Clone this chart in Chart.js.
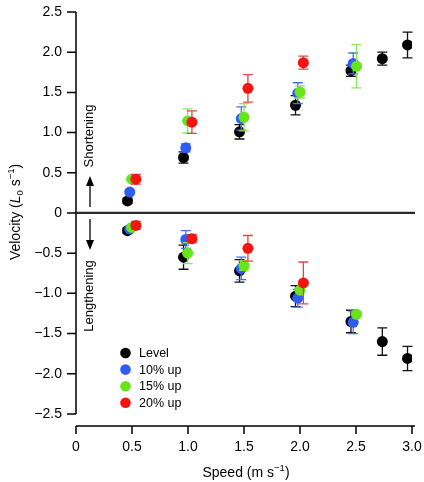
<!DOCTYPE html>
<html>

<head>
  <title>Velocity vs Speed</title>
  <script src="https://cdn.jsdelivr.net/npm/chart.js@4"></script>
  <style>
    body { margin: 0; background: #fff; }
  </style>
</head>

<body>
  <canvas id="speed-chart" width="424" height="482"></canvas>

  <script>
    // axis ticks
    const xTicks = [0, 0.5, 1.0, 1.5, 2.0, 2.5, 3.0];
    const yTicks = [-2.5, -2.0, -1.5, -1.0, -0.5, 0, 0.5, 1.0, 1.5, 2.0, 2.5];

    const seriesNames = ['Level', '10% up', '15% up', '20% up'];
    const seriesColors = ['#000000', '#2f5cf5', '#66e61a', '#f5140f'];
    const errorColors = ['#111111', '#4a70e6', '#90e25e', '#e04848'];

    // Level
    const levelSpeed = [0.46, 0.96, 1.46, 1.96, 2.455, 2.735, 2.96];
    const levelShort = [0.15, 0.69, 1.01, 1.34, 1.77, 1.92, 2.09];
    const levelShortErr = [0.03, 0.07, 0.09, 0.12, 0.07, 0.08, 0.16];
    const levelLong = [-0.22, -0.55, -0.72, -1.035, -1.35, -1.60, -1.81];
    const levelLongErr = [0.03, 0.15, 0.14, 0.13, 0.14, 0.17, 0.15];

    // 10% up
    const up10Speed = [0.48, 0.98, 1.476, 1.98, 2.475];
    const up10Short = [0.26, 0.81, 1.175, 1.49, 1.86];
    const up10ShortErr = [0.02, 0.05, 0.145, 0.13, 0.13];
    const up10Long = [-0.20, -0.33, -0.69, -1.06, -1.36];
    const up10LongErr = [0.02, 0.11, 0.14, 0.11, 0.14];

    // 15% up
    const up15Speed = [0.497, 0.997, 1.50, 2.0, 2.505];
    const up15Short = [0.42, 1.145, 1.19, 1.505, 1.825];
    const up15ShortErr = [0.02, 0.15, 0.17, 0.075, 0.27];
    const up15Long = [-0.18, -0.50, -0.655, -0.96, -1.26];
    const up15LongErr = [0.02, 0.13, 0.06, 0.03, 0.03];

    // 20% up
    const up20Speed = [0.535, 1.035, 1.535, 2.03];
    const up20Short = [0.42, 1.13, 1.55, 1.87];
    const up20ShortErr = [0.06, 0.14, 0.17, 0.08];
    const up20Long = [-0.155, -0.32, -0.44, -0.87];
    const up20LongErr = [0.05, 0.05, 0.16, 0.26];

    const FONT = '"Liberation Sans", Arial, sans-serif';

    function makePoints(speed, shortV, shortE, longV, longE) {
      const pts = [];
      speed.forEach((s, i) => pts.push({ x: s, y: shortV[i], e: shortE[i] }));
      speed.forEach((s, i) => pts.push({ x: s, y: longV[i], e: longE[i] }));
      return pts;
    }

    const allPoints = [
      makePoints(levelSpeed, levelShort, levelShortErr, levelLong, levelLongErr),
      makePoints(up10Speed, up10Short, up10ShortErr, up10Long, up10LongErr),
      makePoints(up15Speed, up15Short, up15ShortErr, up15Long, up15LongErr),
      makePoints(up20Speed, up20Short, up20ShortErr, up20Long, up20LongErr)
    ];

    function fmt(v) {
      if (v === 0) return '0';
      return v.toFixed(1).replace('-', '\u2212');
    }

    // no automatic label padding: layout.padding decides the plot box
    function noPad(s) {
      s.paddingTop = 0;
      s.paddingBottom = 0;
      s.paddingLeft = 0;
      s.paddingRight = 0;
    }

    // draws a run of text pieces (normal / italic / sub / sup) centred at 0,0
    function drawRich(ctx, parts) {
      let total = 0;
      parts.forEach(p => {
        ctx.font = p.font;
        p.w = ctx.measureText(p.t).width;
        total += p.w;
      });
      let x = -total / 2;
      parts.forEach(p => {
        ctx.font = p.font;
        ctx.fillText(p.t, x, p.dy || 0);
        x += p.w;
      });
    }

    const errorBars = {
      id: 'errorBars',
      beforeDatasetDraw(chart, args) {
        const ctx = chart.ctx;
        const y = chart.scales.y;
        const ds = chart.data.datasets[args.index];
        const meta = chart.getDatasetMeta(args.index);
        ctx.save();
        ctx.strokeStyle = errorColors[args.index];
        ctx.lineWidth = 1.3;
        meta.data.forEach((el, i) => {
          const d = ds.data[i];
          const top = y.getPixelForValue(d.y + d.e);
          const bot = y.getPixelForValue(d.y - d.e);
          ctx.beginPath();
          ctx.moveTo(el.x, top); ctx.lineTo(el.x, bot);
          ctx.moveTo(el.x - 5, top); ctx.lineTo(el.x + 5, top);
          ctx.moveTo(el.x - 5, bot); ctx.lineTo(el.x + 5, bot);
          ctx.stroke();
        });
        ctx.restore();
      }
    };

    const decorations = {
      id: 'decorations',
      beforeDatasetsDraw(chart) {
        const ctx = chart.ctx;
        const xs = chart.scales.x;
        const ys = chart.scales.y;
        const area = chart.chartArea;
        const x0 = xs.getPixelForValue(0);
        const xEnd = xs.getPixelForValue(3) + 3;
        const yZero = ys.getPixelForValue(0);

        ctx.save();
        ctx.strokeStyle = '#000';
        ctx.fillStyle = '#000';
        ctx.lineWidth = 1.5;

        // y axis + ticks
        ctx.beginPath();
        ctx.moveTo(x0, ys.getPixelForValue(2.5));
        ctx.lineTo(x0, ys.getPixelForValue(-2.5));
        yTicks.forEach(v => {
          const p = ys.getPixelForValue(v);
          ctx.moveTo(x0 - 9, p); ctx.lineTo(x0, p);
        });
        ctx.stroke();

        // x axis + ticks
        ctx.beginPath();
        ctx.moveTo(x0, area.bottom);
        ctx.lineTo(xEnd, area.bottom);
        xTicks.forEach(v => {
          const p = xs.getPixelForValue(v);
          ctx.moveTo(p, area.bottom); ctx.lineTo(p, area.bottom + 8);
        });
        ctx.stroke();

        // zero line
        ctx.strokeStyle = '#2a2a2a';
        ctx.lineWidth = 2.2;
        ctx.beginPath();
        ctx.moveTo(x0, yZero);
        ctx.lineTo(xEnd, yZero);
        ctx.stroke();

        // shortening / lengthening labels with arrows
        const ax = 90;
        ctx.strokeStyle = '#000';
        ctx.lineWidth = 1.3;
        ctx.beginPath();
        ctx.moveTo(ax, yZero - 6); ctx.lineTo(ax, yZero - 28);
        ctx.moveTo(ax, yZero + 6); ctx.lineTo(ax, yZero + 28);
        ctx.stroke();
        ctx.beginPath();
        ctx.moveTo(ax, yZero - 37); ctx.lineTo(ax - 4, yZero - 27); ctx.lineTo(ax + 4, yZero - 27);
        ctx.closePath(); ctx.fill();
        ctx.beginPath();
        ctx.moveTo(ax, yZero + 37); ctx.lineTo(ax - 4, yZero + 27); ctx.lineTo(ax + 4, yZero + 27);
        ctx.closePath(); ctx.fill();

        ctx.font = '13px ' + FONT;
        ctx.textAlign = 'center';
        ctx.textBaseline = 'middle';
        ctx.save();
        ctx.translate(ax - 1, yZero - 77);
        ctx.rotate(-Math.PI / 2);
        ctx.fillText('Shortening', 0, 0);
        ctx.restore();
        ctx.save();
        ctx.translate(ax - 1, yZero + 83);
        ctx.rotate(-Math.PI / 2);
        ctx.fillText('Lengthening', 0, 0);
        ctx.restore();

        // axis titles
        ctx.textAlign = 'left';
        ctx.textBaseline = 'alphabetic';
        const f = '14px ' + FONT;
        const fs = '9.5px ' + FONT;
        ctx.save();
        ctx.translate(20, yZero - 1);
        ctx.rotate(-Math.PI / 2);
        drawRich(ctx, [
          { t: 'Velocity (', font: f },
          { t: 'L', font: 'italic ' + f },
          { t: '0', font: fs, dy: 3 },
          { t: ' s', font: f },
          { t: '\u22121', font: fs, dy: -6 },
          { t: ')', font: f }
        ]);
        ctx.restore();

        ctx.save();
        ctx.translate((x0 + xs.getPixelForValue(3)) / 2 + 2, 477);
        drawRich(ctx, [
          { t: 'Speed (m s', font: f },
          { t: '\u22121', font: fs, dy: -6 },
          { t: ')', font: f }
        ]);
        ctx.restore();

        // legend
        ctx.font = '12.5px ' + FONT;
        ctx.textBaseline = 'middle';
        seriesNames.forEach((name, i) => {
          const ly = 353 + i * 16.6;
          ctx.fillStyle = seriesColors[i];
          ctx.beginPath();
          ctx.arc(125.5, ly, 5.3, 0, Math.PI * 2);
          ctx.fill();
          ctx.fillStyle = '#000';
          ctx.fillText(name, 139, ly + 0.5);
        });

        ctx.restore();
      }
    };

    const ctx1 = document.getElementById('speed-chart').getContext('2d');

    const speedChart = new Chart(ctx1, {
      type: 'scatter',
      data: {
        datasets: seriesNames.map((name, i) => ({
          label: name,
          data: allPoints[i],
          backgroundColor: seriesColors[i],
          borderWidth: 0,
          pointRadius: 5.5,
          order: 3 - i
        }))
      },
      options: {
        responsive: false,
        animation: false,
        layout: { autoPadding: false, padding: { top: 12, right: 12, left: 0, bottom: 0 } },
        plugins: {
          legend: { display: false },
          tooltip: { enabled: false }
        },
        scales: {
          x: {
            type: 'linear',
            min: 0,
            max: 3,
            afterBuildTicks: s => { s.ticks = xTicks.map(v => ({ value: v })); },
            afterFit: s => { s.height = 56; noPad(s); },
            grid: { display: false, drawTicks: false },
            border: { display: false },
            ticks: {
              padding: 13,
              color: '#000',
              font: { size: 14, family: FONT },
              maxRotation: 0,
              callback: v => fmt(v)
            }
          },
          y: {
            type: 'linear',
            min: -2.65,
            max: 2.5,
            afterBuildTicks: s => { s.ticks = yTicks.map(v => ({ value: v })); },
            afterFit: s => { s.width = 76; noPad(s); },
            grid: { display: false, drawTicks: false },
            border: { display: false },
            ticks: {
              padding: 14,
              color: '#000',
              font: { size: 14, family: FONT },
              callback: v => fmt(v)
            }
          }
        }
      },
      plugins: [errorBars, decorations]
    });
  </script>
</body>

</html>
